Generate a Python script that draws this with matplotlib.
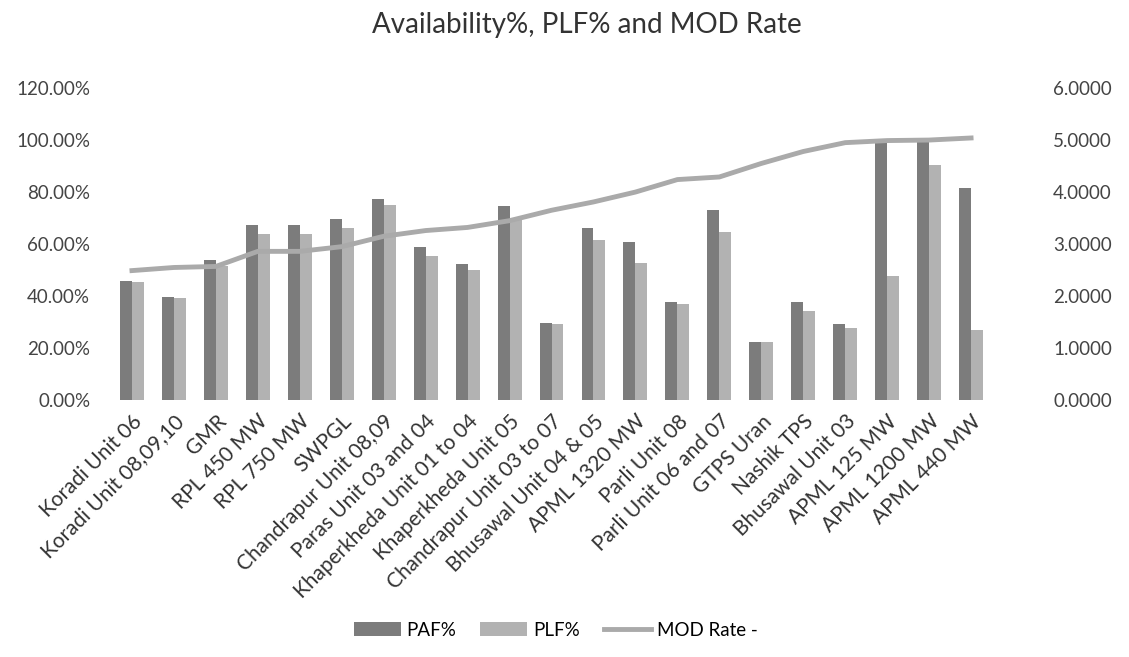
import numpy as np
import matplotlib
matplotlib.use("Agg")
import matplotlib.pyplot as plt
from matplotlib.ticker import FuncFormatter

plt.rcParams['font.family'] = ['Lato', 'DejaVu Sans']

plants = ['Koradi Unit 06', 'Koradi Unit 08,09,10', 'GMR', 'RPL 450 MW', 'RPL 750 MW',
          'SWPGL', 'Chandrapur Unit 08,09', 'Paras Unit 03 and 04',
          'Khaperkheda Unit 01 to 04', 'Khaperkheda Unit 05', 'Chandrapur Unit 03 to 07',
          'Bhusawal Unit 04 & 05', 'APML 1320 MW', 'Parli Unit 08', 'Parli Unit 06 and 07',
          'GTPS Uran', 'Nashik TPS', 'Bhusawal Unit 03', 'APML 125 MW', 'APML 1200 MW',
          'APML 440 MW']

# percent values
paf = [45.8, 39.6, 53.8, 67.4, 67.4, 69.5, 77.4, 59.0, 52.2, 74.6, 29.5,
       66.3, 60.9, 37.8, 73.1, 22.2, 37.8, 29.1, 100.0, 100.0, 81.4]
plf = [45.3, 39.1, 51.5, 63.7, 63.7, 66.2, 74.9, 55.6, 50.0, 69.5, 29.3,
       61.4, 52.8, 36.8, 64.5, 22.2, 34.2, 27.6, 47.7, 90.4, 26.9]
# MOD rate (right axis)
mod_rate = [2.49, 2.55, 2.57, 2.86, 2.86, 2.95, 3.15, 3.26, 3.32, 3.45, 3.65,
            3.81, 4.00, 4.24, 4.29, 4.55, 4.78, 4.95, 4.99, 5.00, 5.04]

x = np.arange(len(plants))
w = 0.285

fig = plt.figure(figsize=(11.29, 6.57), dpi=100)
ax = fig.add_axes([0.0983, 0.391, 0.7804, 0.475])

b1 = ax.bar(x - w / 2, np.array(paf) / 100, w, color='#7c7c7c', label='PAF%')
b2 = ax.bar(x + w / 2, np.array(plf) / 100, w, color='#b2b2b2', label='PLF%')
ax.set_ylim(0, 1.2)
ax.set_xlim(-0.5, len(plants) - 0.5)
ax.set_yticks(np.arange(0, 1.21, 0.2))
ax.yaxis.set_major_formatter(FuncFormatter(lambda v, p: f'{v * 100:.2f}%'))
ax.tick_params(axis='y', length=0, pad=15, labelsize=13.5, labelcolor='#444444')
ax.set_xticks(x)
ax.set_xticklabels(plants, rotation=45, ha='right', rotation_mode='anchor',
                   fontsize=15, color='#333333')
ax.tick_params(axis='x', length=0, pad=8)
for s in ax.spines.values():
    s.set_visible(False)

ax2 = ax.twinx()
l1, = ax2.plot(x, mod_rate, color='#aaaaaa', lw=3.5, label='MOD Rate -')
ax2.set_ylim(0, 6)
ax2.set_yticks(np.arange(0, 6.1, 1))
ax2.yaxis.set_major_formatter(FuncFormatter(lambda v, p: f'{v:.4f}'))
ax2.tick_params(axis='y', length=0, pad=44, labelsize=13.5, labelcolor='#444444')
for s in ax2.spines.values():
    s.set_visible(False)

fig.text(0.52, 0.962, 'Availability%, PLF% and MOD Rate', ha='center', va='center',
         fontsize=20, color='#333333')

fig.legend([b1, b2, l1], ['PAF%', 'PLF%', 'MOD Rate -'], loc='center',
           bbox_to_anchor=(0.492, 0.041), ncol=3, frameon=False, fontsize=13.5,
           handlelength=2.5, handleheight=0.7, columnspacing=1.3, handletextpad=0.3)

fig.savefig('out.png', dpi=100)
